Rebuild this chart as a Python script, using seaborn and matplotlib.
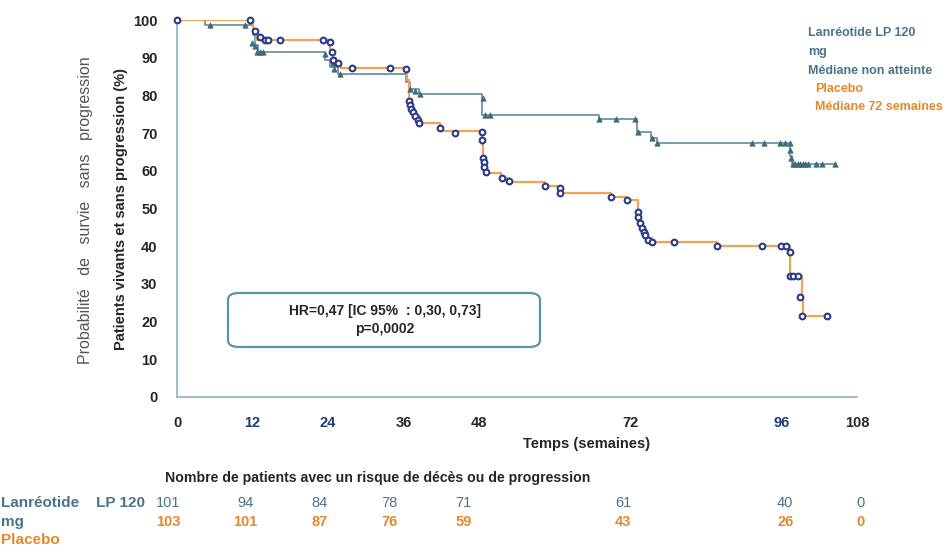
import matplotlib
matplotlib.use("Agg")
import matplotlib.pyplot as plt
from matplotlib.patches import FancyBboxPatch
from matplotlib.transforms import blended_transform_factory
import seaborn as sns

# Lanreotide arm: step curve (weeks, % PFS) and censor marks
lan_t = [0, 4.5, 12, 12.4, 12.8, 23.5, 24.3, 25.5, 36.3, 37, 38.5, 48.5, 67, 73, 75.3, 76.2, 97.3, 97.6, 104.5]
lan_s = [100, 98.8, 96, 93.5, 91.6, 89.5, 87.5, 85.6, 83.5, 81.8, 80.4, 74.8, 73.7, 70.3, 68.7, 67.4, 64, 61.8, 61.8]
lan_cens_t = [5.2, 10.8, 11.9, 12.4, 12.7, 13.2, 13.6, 23.5, 24.8, 25.0, 25.9, 37.0, 37.8, 38.6, 48.6, 48.9, 49.7,
              67.1, 69.8, 72.7, 73.2, 75.5, 76.2, 91.4, 93.3, 95.7, 96.5, 97.3, 97.4, 97.5,
              97.8, 98.2, 98.6, 99.0, 99.4, 99.8, 100.2, 101.5, 102.5, 104.5]
lan_cens_s = [98.8, 98.8, 94, 93, 91.6, 91.6, 91.6, 91, 88.5, 87, 85.6, 81.8, 81.2, 80.4, 79.3, 74.8, 74.8,
              73.7, 73.7, 73.7, 70.3, 68.7, 67.4, 67.4, 67.4, 67.4, 67.4, 67.4, 65.5, 63.5,
              61.8, 61.8, 61.8, 61.8, 61.8, 61.8, 61.8, 61.8, 61.8, 61.8]

# Placebo arm
pla_t = [0, 12, 12.6, 24.3, 24.7, 25.3, 26, 36.5, 36.8, 37.3, 37.8, 38.6, 41.8, 48.4, 48.6, 48.8, 49, 51.5, 52.7,
         58.4, 60.8, 61, 69, 71.4, 73.2, 73.5, 73.8, 74.3, 74.8, 75.4, 85.7, 97.3, 99.2, 99.4, 103.2]
pla_s = [100, 97, 94.7, 92, 90, 88.5, 87.2, 84, 79, 76.5, 74.5, 72.7, 70.5, 67, 63.5, 61, 59.4, 58, 57,
         56, 55, 54, 53, 52.2, 48, 46, 44.5, 43.5, 42.3, 41, 40, 32, 26.5, 21.5, 21.5]
pla_cens_t = [0, 11.6, 12.4, 13.2, 14, 14.4, 16.4, 23.2, 24.3, 24.6, 24.8, 25.6, 27.8, 33.8, 36.4,
              36.8, 37.0, 37.2, 37.5, 37.8, 38.2, 38.5, 41.7, 44.1, 48.5, 48.5, 48.6, 48.7, 48.8, 49.0,
              51.6, 52.7, 58.4, 60.8, 60.8, 69, 71.4, 73.2, 73.2, 73.5, 73.8, 74.1, 74.3, 74.8, 75.4,
              79, 85.7, 92.9, 95.9, 96.7, 97.3, 97.3, 97.8, 98.6, 99.0, 99.2, 103.2]
pla_cens_s = [100, 100, 97, 95.5, 94.7, 94.7, 94.7, 94.7, 94.2, 91.6, 89.4, 88.5, 87.2, 87.2, 87,
              78.5, 77.5, 76.5, 75.5, 74.5, 73.5, 72.8, 71.3, 70, 70.3, 68.2, 63.4, 62.3, 61, 59.7,
              58, 57.3, 56, 55.4, 54.1, 53, 52.2, 49, 47.7, 46.1, 44.8, 43.8, 43, 41.6, 41,
              41, 40, 40, 40, 40, 38.5, 32, 32, 32, 26.5, 21.5, 21.5]

xticks = [0, 12, 24, 36, 48, 72, 96, 108]
risk_lan = [101, 94, 84, 78, 71, 61, 40, 0]
risk_pla = [103, 101, 87, 76, 59, 43, 26, 0]

teal_line = "#6b95a6"
teal_mark = "#3e6a7c"
teal_text = "#4a7489"
orange_line = "#f0a350"
orange_text = "#e3892c"
navy = "#2a3a8c"
spine_col = "#8fb2c2"

sns.set_style("white")
plt.rcParams["font.family"] = ["Liberation Sans", "DejaVu Sans"]

W, H = 944, 546
fig = plt.figure(figsize=(9.44, 5.46), dpi=100)
ax = fig.add_axes([177 / W, 1 - 397 / H, 680 / W, 377 / H])

sns.lineplot(x=lan_t, y=lan_s, drawstyle="steps-post", color=teal_line, lw=1.3, estimator=None, ax=ax)
sns.lineplot(x=pla_t, y=pla_s, drawstyle="steps-post", color=orange_line, lw=1.6, estimator=None, ax=ax)
sns.scatterplot(x=lan_cens_t, y=lan_cens_s, marker="^", s=15, color=teal_mark, edgecolor=teal_mark,
                linewidth=0.5, ax=ax, clip_on=False, zorder=4)
sns.scatterplot(x=pla_cens_t, y=pla_cens_s, marker="o", s=17, color="white", edgecolor=navy,
                linewidth=1.5, ax=ax, clip_on=False, zorder=5)

ax.set_xlim(0, 108)
ax.set_ylim(0, 100)
ax.set_xticks(xticks)
ax.set_yticks(range(0, 101, 10))
for s in ["top", "right"]:
    ax.spines[s].set_visible(False)
for s in ["left", "bottom"]:
    ax.spines[s].set_color(spine_col)
    ax.spines[s].set_linewidth(1.2)
ax.tick_params(axis="both", direction="out", length=5, color=spine_col, width=1.2,
               labelsize=10.5)
ax.tick_params(axis="x", pad=9)
ax.tick_params(axis="y", pad=9)
for lab in ax.get_xticklabels() + ax.get_yticklabels():
    lab.set_fontweight("bold")
for lab, t in zip(ax.get_xticklabels(), xticks):
    if t in (12, 24, 96):
        lab.set_color("#1f3a7a")

ax.set_xlabel("Temps (semaines)", fontsize=10.5, fontweight="bold")
ax.xaxis.set_label_coords((587 - 177) / 680, -0.105)
ax.set_ylabel("Patients vivants et sans progression (%)", fontsize=10.5, fontweight="bold")
ax.yaxis.set_label_coords(-0.072, 0.5)
fig.text(86 / W, 1 - 210 / H, "Probabilité   de   survie   sans   progression", rotation=90,
         ha="center", va="center", fontsize=11.5, color="#555555")

# legend-like annotations
fig.text(808 / W, 1 - 52 / H, "Lanréotide LP 120\nmg\nMédiane non atteinte", color=teal_text,
         fontsize=9, fontweight="bold", ha="left", va="center", linespacing=1.8)
fig.text(815 / W, 1 - 98 / H, "Placebo\nMédiane 72 semaines", color=orange_text,
         fontsize=9, fontweight="bold", ha="left", va="center", linespacing=1.75)

# HR box
box = FancyBboxPatch((228 / W, 1 - 347 / H), 312 / W, 54 / H,
                     boxstyle="round,pad=0,rounding_size=0.012", transform=fig.transFigure,
                     facecolor="white", edgecolor="#5b93a6", lw=1.6)
fig.patches.append(box)
fig.text(385 / W, 1 - 320 / H, "HR=0,47 [IC 95%  : 0,30, 0,73]\np=0,0002", ha="center", va="center",
         fontsize=10, fontweight="bold", linespacing=1.3)

# number at risk table
fig.text(165 / W, 1 - 478 / H, "Nombre de patients avec un risque de décès ou de progression",
         fontsize=10.2, fontweight="bold", ha="left", va="center")
fig.text(1 / W, 1 - 503 / H, "Lanréotide    LP 120", color=teal_text, fontsize=11, fontweight="bold",
         ha="left", va="center")
fig.text(1 / W, 1 - 522 / H, "mg", color=teal_text, fontsize=11, fontweight="bold",
         ha="left", va="center")
fig.text(1 / W, 1 - 540 / H, "Placebo", color=orange_text, fontsize=11, fontweight="bold",
         ha="left", va="center")
trans = blended_transform_factory(ax.transData, fig.transFigure)
shifts = [-1.4, -1.1, -1.3, -2.2, -2.5, -1.1, 0.6, 0.5]
for t, a, b, d in zip(xticks, risk_lan, risk_pla, shifts):
    ax.text(t + d, 1 - 503 / H, str(a), transform=trans, color=teal_text, fontsize=10.5,
            ha="center", va="center")
    ax.text(t + d, 1 - 522 / H, str(b), transform=trans, color=orange_text, fontsize=10.5,
            fontweight="bold", ha="center", va="center")

fig.savefig("out.png", dpi=100, facecolor="white")
